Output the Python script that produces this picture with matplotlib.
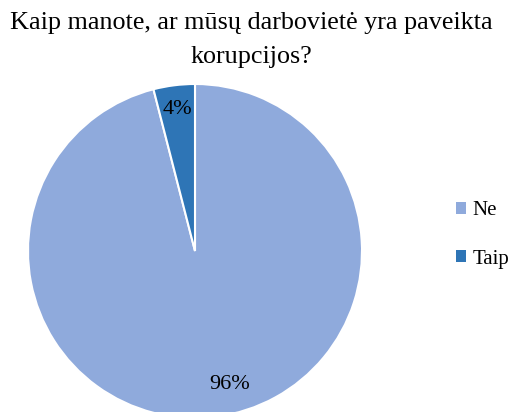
import matplotlib
matplotlib.use("Agg")
import matplotlib.pyplot as plt
from matplotlib.patches import Patch

categories = ["Ne", "Taip"]
values = [96, 4]
pct_labels = ["96%", "4%"]
colors = ["#8FAADC", "#2E75B6"]
title = "Kaip manote, ar mūsų darbovietė yra paveikta\nkorupcijos?"

FONT = 'Liberation Serif'
plt.rcParams['font.family'] = 'serif'
plt.rcParams['font.serif'] = [FONT, 'DejaVu Serif']

W, H = 515, 412
fig = plt.figure(figsize=(W/100, H/100), dpi=100)

cx, cy, R = 195, 251, 167
ax = fig.add_axes([(cx - R)/W, (H - cy - R)/H, 2*R/W, 2*R/H])
wedges, texts = ax.pie(values, colors=colors, startangle=90, counterclock=False,
                       wedgeprops=dict(edgecolor="white", linewidth=1.5))
ax.set_xlim(-1, 1)
ax.set_ylim(-1, 1)
ax.set_aspect('auto')
ax.axis('off')

# percentage labels
ax.text(0.205, -0.8, pct_labels[0], ha='center', va='center', fontsize=16, family=FONT)
ax.text(-0.108, 0.85, pct_labels[1], ha='center', va='center', fontsize=16, family=FONT)

fig.text(251/W, 1 - 12/H, title, ha='center', va='top', fontsize=18.8,
         linespacing=1.7, family=FONT)

handles = [Patch(facecolor=c, edgecolor='none') for c in colors]
leg = fig.legend(handles, categories, loc='center left', bbox_to_anchor=(456/W, 1 - 235/H),
                 frameon=False, prop=dict(family=FONT, size=15),
                 handlelength=0.5, handleheight=0.5, borderpad=0, borderaxespad=0,
                 handletextpad=0.3, labelspacing=1.4)

fig.savefig("out.png", dpi=100)
